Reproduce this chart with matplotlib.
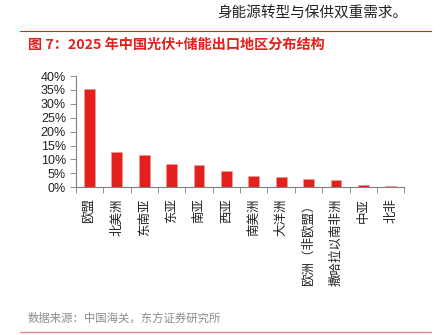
import matplotlib.pyplot as plt
import numpy as np

plt.rcParams['font.family'] = ['Noto Sans CJK SC', 'DejaVu Sans']

# export share by region, 2025
regions = ['欧盟', '北美洲', '东南亚', '东亚', '南亚', '西亚', '南美洲', '大洋洲',
           '欧洲（非欧盟）', '撒哈拉以南非洲', '中亚', '北非']
share = [35.3, 12.8, 11.5, 8.4, 7.9, 5.7, 4.0, 3.7, 2.9, 2.5, 0.8, 0.6]
yticks = [0, 5, 10, 15, 20, 25, 30, 35, 40]

red = '#e3201b'
grey = '#7f7f7f'

fig = plt.figure(figsize=(4.43, 3.35), dpi=100)

# page header text and red rules
fig.text(0.49, 0.962, '身能源转型与保供双重需求。', fontsize=10.5, color='#222222',
         ha='left', va='center')
fig.add_artist(plt.Line2D([0.045, 0.972], [0.907, 0.907], color=red, lw=0.8))
fig.text(0.063, 0.865, '图 7：2025 年中国光伏+储能出口地区分布结构', fontsize=10.2,
         color=red, fontweight='bold', ha='left', va='center')
fig.text(0.063, 0.05, '数据来源：中国海关，东方证券研究所', fontsize=8.2, color='#8c8c8c',
         ha='left', va='center')
fig.add_artist(plt.Line2D([0.045, 0.972], [0.01, 0.01], color='#e88a8a', lw=1.0))

ax = fig.add_axes([0.171, 0.441, 0.742, 0.332])
x = np.arange(len(regions))
ax.bar(x, share, width=0.4, color=red, edgecolor='#f29a9a', linewidth=0.4)

ax.set_xlim(-0.5, len(regions) - 0.5)
ax.set_ylim(0, 40)
ax.set_yticks(yticks)
ax.set_yticklabels([f'{v}%' for v in yticks], fontsize=9, color='#222222',
                   family='Liberation Sans')
ax.set_xticks(x)
ax.set_xticklabels(regions, rotation=90, fontsize=9, color='#222222')
ax.tick_params(axis='x', length=0, pad=8)
ax.tick_params(axis='y', length=4, width=0.6, color=grey, pad=3)
# tick marks between categories
ax.set_xticks(np.arange(-0.5, len(regions)), minor=True)
ax.tick_params(axis='x', which='minor', length=4, width=0.6, color=grey)

for side in ['top', 'right']:
    ax.spines[side].set_visible(False)
for side in ['left', 'bottom']:
    ax.spines[side].set_color(grey)
    ax.spines[side].set_linewidth(0.8)

fig.savefig('out.png', dpi=100)
